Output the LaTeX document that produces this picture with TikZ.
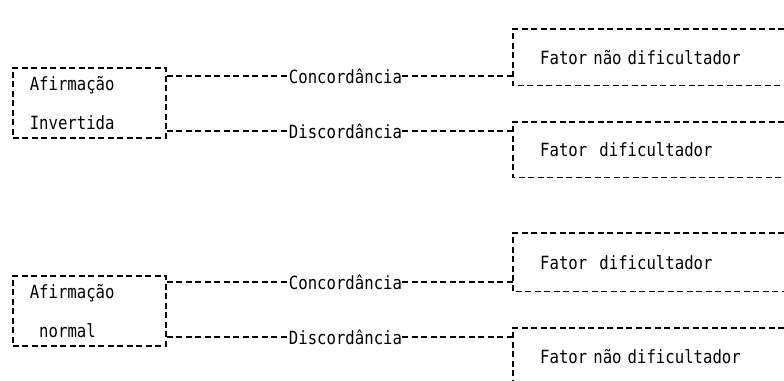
\documentclass[tikz,border=0pt]{standalone}
\usepackage{fontspec}
\setmonofont[FakeStretch=0.86]{DejaVu Sans Mono}
\begin{document}
\begin{tikzpicture}[x=1pt,y=-1pt,
  every node/.style={font=\ttfamily\fontsize{18.2}{39}\selectfont, text=black},
  ln/.style={line width=1.5pt, dash pattern=on 6pt off 3.5pt, draw=black},
  lbox/.style={ln, draw, anchor=north west, minimum width=153pt, minimum height=70pt,
    inner xsep=17pt, inner ysep=0pt, text width=119pt, align=left},
  rbox/.style={anchor=north west, minimum width=271pt, inner xsep=27pt, inner ysep=0pt,
    text width=217pt, align=left},
  lab/.style={inner sep=0pt}]
\useasboundingbox (0,0) rectangle (784,380);

% left boxes
\node[lbox] (l1) at (12,67) {Afirmação\\Invertida};
\node[lbox] (l2) at (12,275) {Afirmação\\\hspace{9.5pt}normal};

% right boxes (open on the right)
\node[rbox, minimum height=56pt] (r1) at (513,29) {Fator não dificultador};
\node[rbox, minimum height=55pt] (r2) at (513,122) {Fator\ \ dificultador};
\node[rbox, minimum height=58pt] (r3) at (513,233) {Fator\ \ dificultador};
\node[rbox, minimum height=56pt] (r4) at (513,328) {Fator não dificultador};
\foreach \r in {r1,r2,r3,r4}
  \draw[ln] (\r.north east) -- (\r.north west) -- (\r.south west) -- (\r.south east);

% connector labels
\node[lab] (c1) at (345.5,76) {Concordância};
\node[lab] (d1) at (345.5,131) {Discordância};
\node[lab] (c2) at (345.5,282) {Concordância};
\node[lab] (d2) at (345.5,337) {Discordância};

% connectors
\draw[ln] (l1.east |- c1) -- (c1.west);
\draw[ln] (c1.east) -- (r1.west |- c1);
\draw[ln] (l1.east |- d1) -- (d1.west);
\draw[ln] (d1.east) -- (r2.west |- d1);
\draw[ln] (l2.east |- c2) -- (c2.west);
\draw[ln] (c2.east) -- (r3.west |- c2);
\draw[ln] (l2.east |- d2) -- (d2.west);
\draw[ln] (d2.east) -- (r4.west |- d2);
\end{tikzpicture}
\end{document}
